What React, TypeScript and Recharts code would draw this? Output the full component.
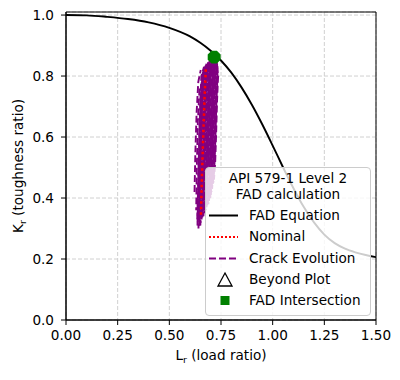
import React from "react";
import {
  ComposedChart, Line, Scatter, XAxis, YAxis, CartesianGrid, ReferenceArea
} from "recharts";

const FONT = "'DejaVu Sans', Verdana, sans-serif";
const FS = 13.6;

const xTicks = [0, 0.25, 0.5, 0.75, 1.0, 1.25, 1.5];
const yTicks = [0, 0.2, 0.4, 0.6, 0.8, 1.0];

// FAD curve
const fadLr = [0, 0.1, 0.2, 0.3, 0.4, 0.5, 0.6, 0.65, 0.7, 0.75, 0.8, 0.85, 0.9, 0.95, 1.0, 1.05, 1.1, 1.15, 1.2, 1.25, 1.3, 1.35, 1.4, 1.45, 1.5];
const fadKr = [1.0, 0.999, 0.994, 0.987, 0.976, 0.958, 0.93, 0.909, 0.883, 0.851, 0.811, 0.762, 0.705, 0.641, 0.572, 0.501, 0.433, 0.371, 0.32, 0.28, 0.252, 0.234, 0.222, 0.213, 0.206];

// nominal crack path
const nominalLr = [0.653, 0.658, 0.665, 0.671, 0.677];
const nominalKr = [0.345, 0.48, 0.62, 0.74, 0.83];

// crack evolution paths (one row per path)
const crackLr = [
  [0.622, 0.626, 0.632, 0.64, 0.652],
  [0.63, 0.633, 0.638, 0.646],
  [0.636, 0.64, 0.646, 0.655, 0.665],
  [0.635, 0.641, 0.645, 0.65, 0.655, 0.668],
  [0.638, 0.644, 0.648, 0.653, 0.658, 0.672],
  [0.641, 0.647, 0.651, 0.656, 0.661, 0.676],
  [0.644, 0.65, 0.654, 0.659, 0.664, 0.68],
  [0.647, 0.653, 0.657, 0.662, 0.667, 0.684],
  [0.65, 0.656, 0.66, 0.665, 0.67, 0.688],
  [0.653, 0.659, 0.663, 0.668, 0.673, 0.692],
  [0.656, 0.662, 0.666, 0.671, 0.676, 0.695],
  [0.659, 0.665, 0.669, 0.674, 0.679, 0.699],
  [0.662, 0.668, 0.672, 0.677, 0.682, 0.702],
  [0.665, 0.671, 0.675, 0.68, 0.685, 0.705],
  [0.668, 0.674, 0.678, 0.683, 0.688, 0.708],
  [0.671, 0.677, 0.681, 0.686, 0.691, 0.71],
  [0.674, 0.68, 0.684, 0.689, 0.694, 0.712],
  [0.677, 0.683, 0.687, 0.692, 0.697, 0.714],
  [0.68, 0.686, 0.69, 0.695, 0.7, 0.716],
  [0.683, 0.689, 0.693, 0.698, 0.703, 0.718],
  [0.686, 0.692, 0.696, 0.701, 0.706, 0.719],
  [0.689, 0.695, 0.699, 0.704, 0.709, 0.72],
  [0.692, 0.698, 0.702, 0.707, 0.712, 0.722],
  [0.695, 0.701, 0.705, 0.71, 0.715, 0.723],
  [0.698, 0.704, 0.708, 0.713, 0.718, 0.725],
  [0.701, 0.707, 0.711, 0.716, 0.721, 0.726],
  [0.704, 0.71, 0.714, 0.719, 0.724, 0.728],
  [0.707, 0.713, 0.717, 0.722, 0.727, 0.729],
  [0.71, 0.716, 0.72, 0.725, 0.73, 0.73],
  [0.713, 0.719, 0.723, 0.728, 0.733, 0.731],
  [0.716, 0.722, 0.726, 0.731, 0.736, 0.732],
];
const crackKr = [
  [0.42, 0.55, 0.68, 0.78, 0.82],
  [0.36, 0.5, 0.65, 0.76],
  [0.3, 0.45, 0.62, 0.76, 0.82],
  [0.33, 0.48, 0.6, 0.72, 0.8, 0.83],
  [0.32, 0.48, 0.6, 0.72, 0.8, 0.83],
  [0.3, 0.48, 0.6, 0.72, 0.8, 0.835],
  [0.3, 0.48, 0.6, 0.72, 0.8, 0.84],
  [0.31, 0.48, 0.6, 0.72, 0.8, 0.842],
  [0.31, 0.48, 0.6, 0.72, 0.8, 0.845],
  [0.32, 0.48, 0.6, 0.72, 0.8, 0.848],
  [0.33, 0.48, 0.6, 0.72, 0.8, 0.85],
  [0.33, 0.48, 0.6, 0.72, 0.8, 0.852],
  [0.34, 0.48, 0.6, 0.72, 0.8, 0.855],
  [0.34, 0.48, 0.6, 0.72, 0.8, 0.857],
  [0.35, 0.48, 0.6, 0.72, 0.8, 0.86],
  [0.35, 0.48, 0.6, 0.72, 0.8, 0.86],
  [0.36, 0.48, 0.6, 0.72, 0.8, 0.862],
  [0.36, 0.48, 0.6, 0.72, 0.8, 0.862],
  [0.37, 0.48, 0.6, 0.72, 0.8, 0.862],
  [0.37, 0.48, 0.6, 0.72, 0.8, 0.861],
  [0.38, 0.48, 0.6, 0.72, 0.8, 0.86],
  [0.38, 0.48, 0.6, 0.72, 0.8, 0.859],
  [0.39, 0.48, 0.6, 0.72, 0.8, 0.858],
  [0.39, 0.48, 0.6, 0.72, 0.8, 0.856],
  [0.4, 0.48, 0.6, 0.72, 0.8, 0.855],
  [0.41, 0.49, 0.6, 0.72, 0.8, 0.852],
  [0.42, 0.5, 0.6, 0.72, 0.8, 0.85],
  [0.43, 0.5, 0.6, 0.72, 0.8, 0.847],
  [0.44, 0.51, 0.6, 0.72, 0.8, 0.843],
  [0.45, 0.52, 0.6, 0.72, 0.8, 0.84],
  [0.46, 0.52, 0.6, 0.72, 0.8, 0.835],
];
// dash phase of each path, so the gaps do not line up
const crackDashOffset = [0, 4, 7, 0, 5, 2, 7, 4, 1, 6, 3, 8, 5, 2, 7, 4, 1, 6, 3, 8, 0, 5, 2, 7, 4, 1, 6, 3, 8, 5, 2];

const intersectLr = [0.717];
const intersectKr = [0.862];

const zip = (xs: number[], ys: number[]) => xs.map((x, i) => ({ x, y: ys[i] }));

const Octagon = (props: any) => {
  const { cx, cy } = props;
  const r = 7;
  const pts = [0, 1, 2, 3, 4, 5, 6, 7]
    .map((k) => {
      const a = Math.PI / 8 + (k * Math.PI) / 4;
      return `${cx + r * Math.cos(a)},${cy + r * Math.sin(a)}`;
    })
    .join(" ");
  return <polygon points={pts} fill="#008000" />;
};

const XLabel = (props: any) => {
  const vb = props.viewBox;
  return (
    <text x={vb.x + vb.width / 2} y={360} textAnchor="middle" fontFamily={FONT} fontSize={FS} fill="#000">
      L<tspan fontSize={9.5} dy={3}>r</tspan><tspan dy={-3}> (load ratio)</tspan>
    </text>
  );
};

const YLabel = (props: any) => {
  const vb = props.viewBox;
  const cy = vb.y + vb.height / 2;
  return (
    <text x={23} y={cy} transform={`rotate(-90, 23, ${cy})`} textAnchor="middle" fontFamily={FONT} fontSize={FS} fill="#000">
      K<tspan fontSize={9.5} dy={3}>r</tspan><tspan dy={-3}> (toughness ratio)</tspan>
    </text>
  );
};

const FadLegend = () => (
  <div style={{
    position: "absolute", left: 205, top: 167, width: 166, height: 149, boxSizing: "border-box",
    background: "rgba(255,255,255,0.8)", border: "1px solid #cccccc", borderRadius: 4,
  }}>
    <svg width={166} height={149} style={{ position: "absolute", left: -1, top: -1 }} fontFamily={FONT} fontSize={FS}>
      <text x={83} y={16} textAnchor="middle" fill="#000">API 579-1 Level 2</text>
      <text x={83} y={31.5} textAnchor="middle" fill="#000">FAD calculation</text>

      <line x1={4} x2={33} y1={48.5} y2={48.5} stroke="#000" strokeWidth={2} />
      <text x={44} y={52.5} fill="#000">FAD Equation</text>

      <line x1={4} x2={33} y1={70} y2={70} stroke="#ff0000" strokeWidth={2} strokeDasharray="2 2" />
      <text x={44} y={74} fill="#000">Nominal</text>

      <line x1={4} x2={33} y1={91.5} y2={91.5} stroke="#800080" strokeWidth={2} strokeDasharray="7 3" />
      <text x={44} y={95.5} fill="#000">Crack Evolution</text>

      <polygon points="20,106 27,119 13,119" fill="#fff" stroke="#000" strokeWidth={1.3} />
      <text x={44} y={116.5} fill="#000">Beyond Plot</text>

      <rect x={15.5} y={129} width={9} height={9} fill="#008000" />
      <text x={44} y={137.5} fill="#000">FAD Intersection</text>
    </svg>
  </div>
);

const tickStyle = { fill: "#000", fontSize: FS, fontFamily: FONT };

export default function App() {
  return (
    <div style={{ position: "absolute", left: 0, top: 0, width: 400, height: 380, background: "#fff" }}>
      <ComposedChart width={400} height={380} margin={{ top: 12, right: 24, bottom: 0, left: 0 }}>
        <CartesianGrid strokeDasharray="4 2" stroke="#d0d0d0" />
        <XAxis
          type="number" dataKey="x" domain={[0, 1.5]} ticks={xTicks} allowDataOverflow
          tickFormatter={(v: number) => v.toFixed(2)} height={60} tickSize={5} tickMargin={5}
          stroke="#000" tick={tickStyle} label={<XLabel />}
        />
        <YAxis
          type="number" dataKey="y" domain={[0, 1.01]} ticks={yTicks} allowDataOverflow
          tickFormatter={(v: number) => v.toFixed(1)} width={66} tickSize={5} tickMargin={7}
          stroke="#000" tick={tickStyle} label={<YLabel />}
        />
        <Line data={zip(fadLr, fadKr)} dataKey="y" type="monotone" stroke="#000" strokeWidth={1.9} dot={false} activeDot={false} isAnimationActive={false} />
        {crackLr.map((xs, i) => (
          <Line key={i} data={zip(xs, crackKr[i])} dataKey="y" type="linear" stroke="#800080" strokeWidth={1.9}
            strokeDasharray="6.9 3" strokeDashoffset={crackDashOffset[i]} dot={false} activeDot={false} isAnimationActive={false} />
        ))}
        <Line data={zip(nominalLr, nominalKr)} dataKey="y" type="linear" stroke="#ff0000" strokeWidth={2.5}
          strokeDasharray="2.5 3" dot={false} activeDot={false} isAnimationActive={false} />
        <Scatter data={zip(intersectLr, intersectKr)} dataKey="y" shape={<Octagon />} isAnimationActive={false} />
        <ReferenceArea x1={0} x2={1.5} y1={0} y2={1.01} fill="none" stroke="#000" strokeWidth={1} ifOverflow="visible" />
      </ComposedChart>
      <FadLegend />
    </div>
  );
}
